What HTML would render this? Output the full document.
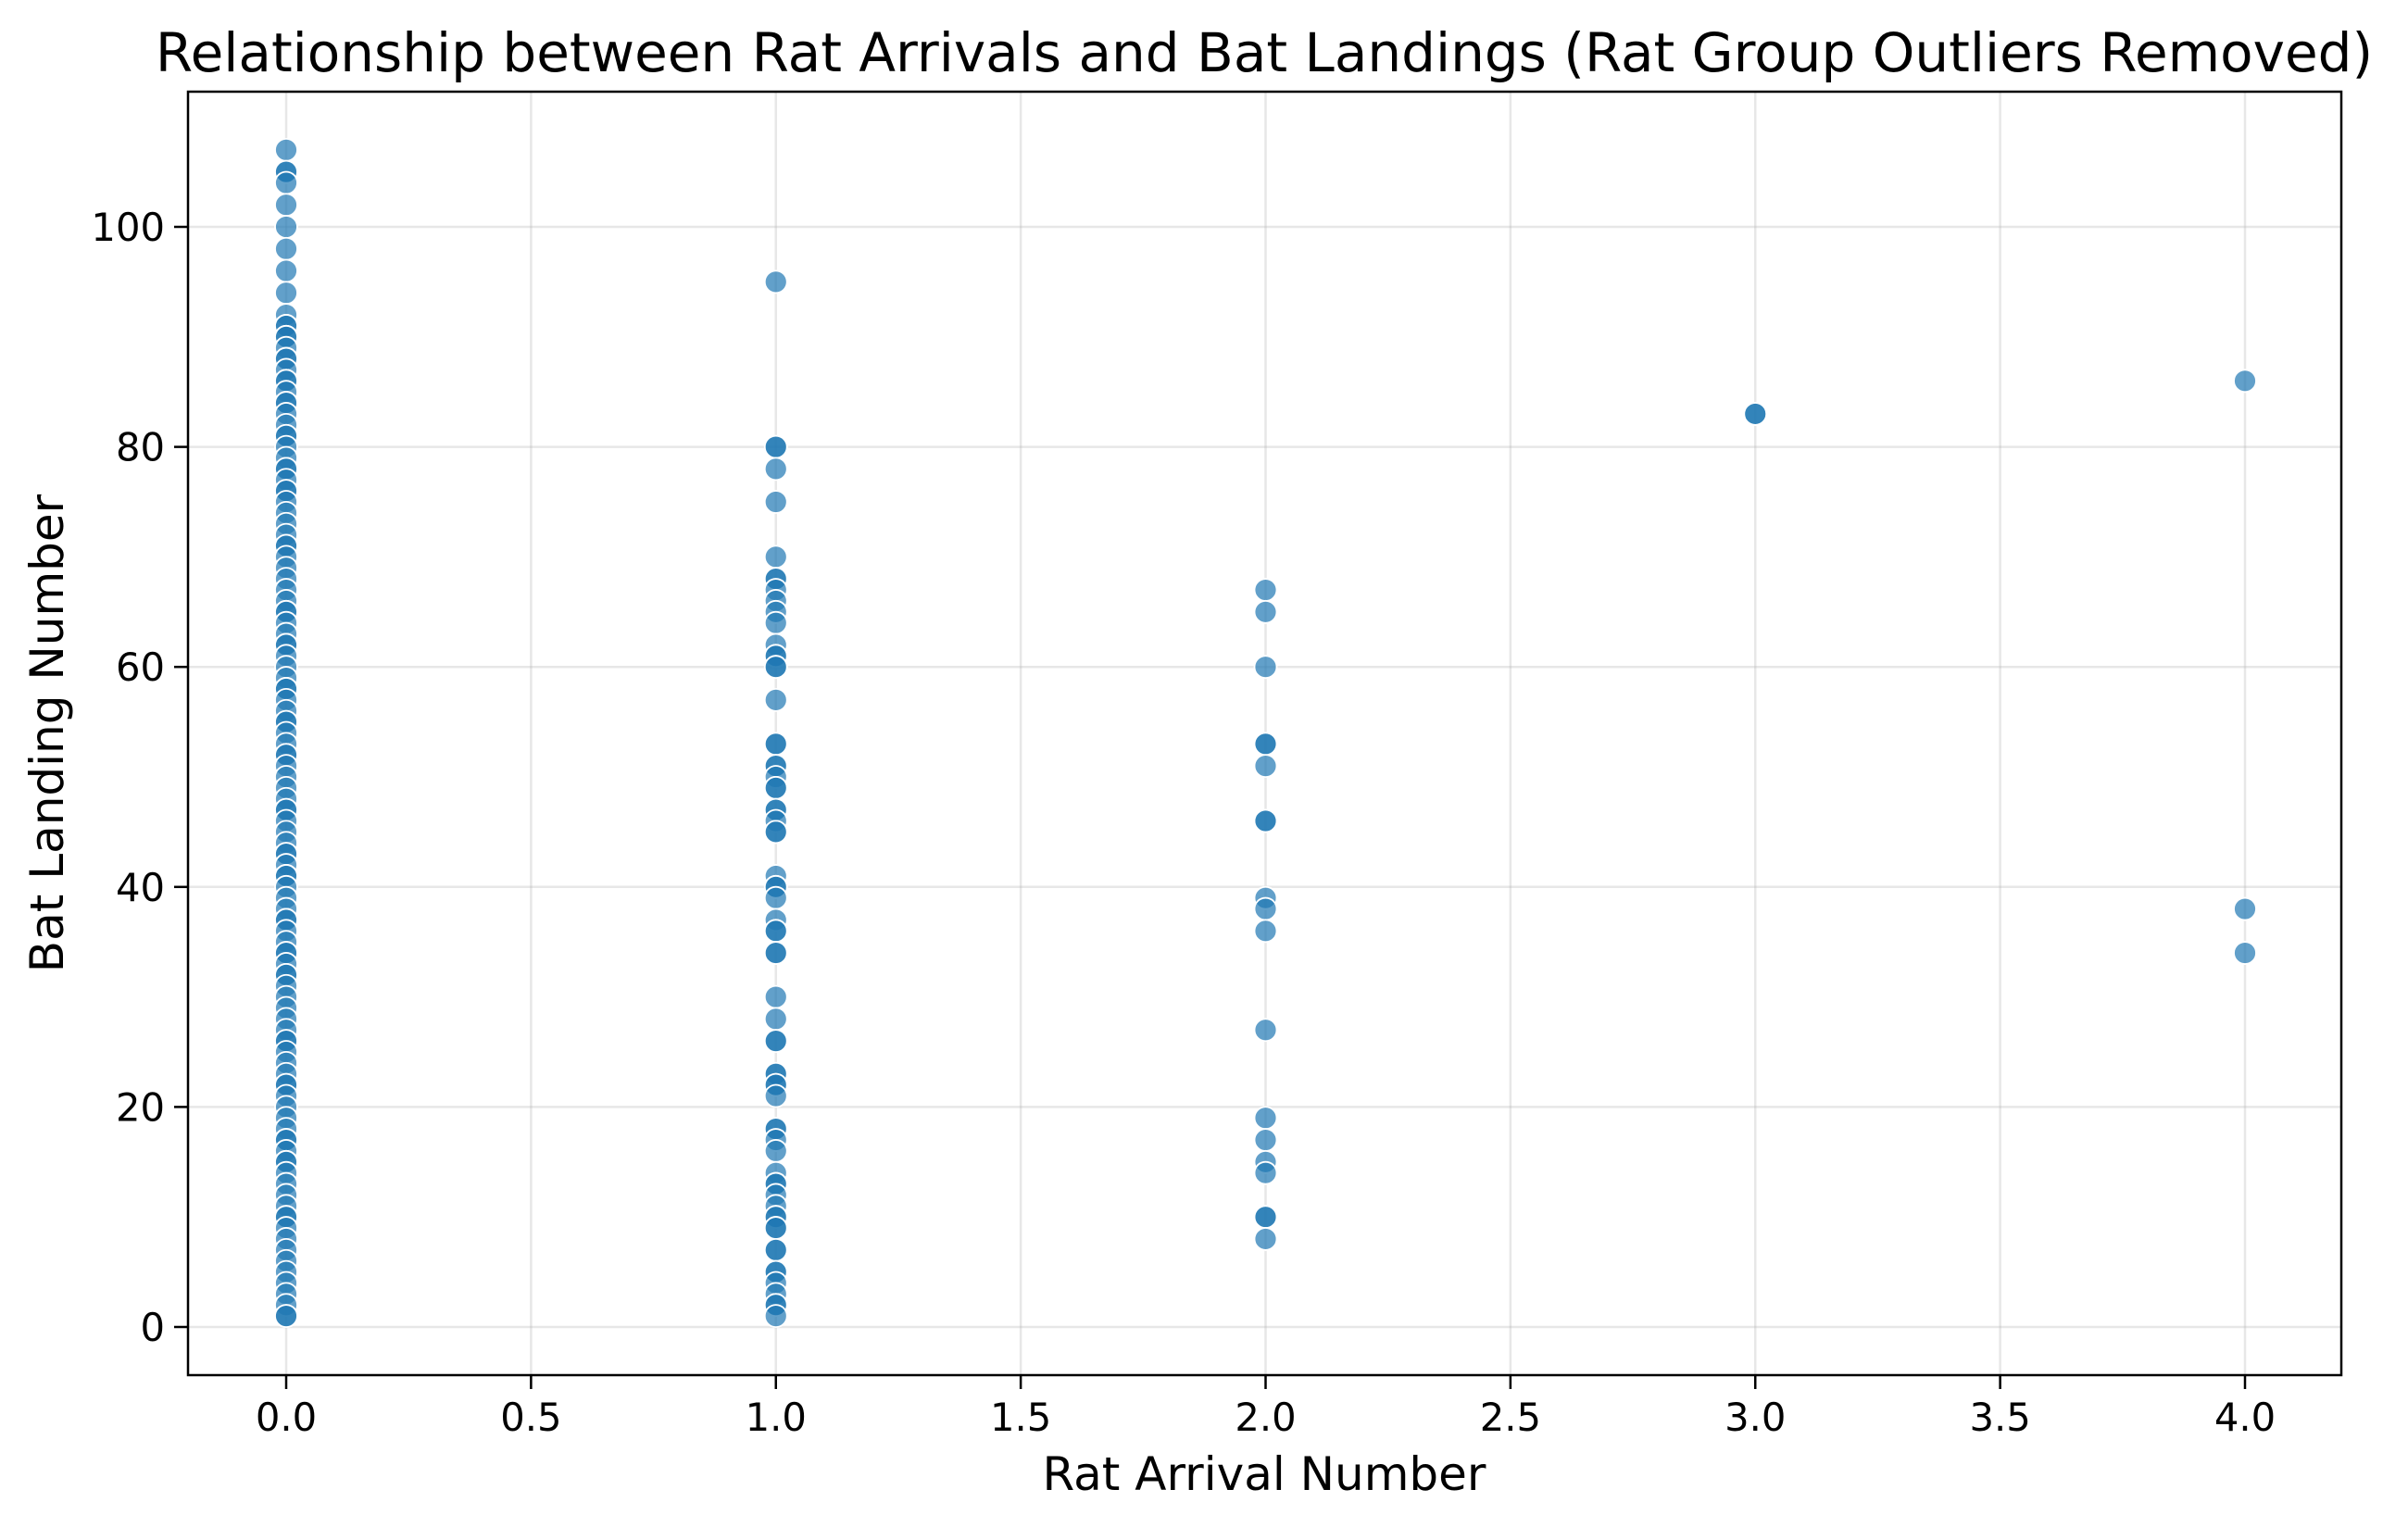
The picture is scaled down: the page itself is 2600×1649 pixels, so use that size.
<!DOCTYPE html>
<html><head><meta charset="utf-8"><style>
html,body{margin:0;padding:0;background:#fff;}
svg{display:block;font-family:"DejaVu Sans","Liberation Sans",sans-serif;}
</style></head><body>
<svg id="chart" width="2600" height="1649" viewBox="0 0 2600 1649" xmlns="http://www.w3.org/2000/svg">
<rect x="0" y="0" width="2600" height="1649" fill="#fff"/>
<g id="grid"></g>
<g id="points"></g>
<rect x="203" y="99" width="2325" height="1386" fill="none" stroke="#000" stroke-width="2.5"/>
<g id="xticks"></g>
<g id="yticks"></g>
<text x="1365" y="77" font-size="58" text-anchor="middle">Relationship between Rat Arrivals and Bat Landings (Rat Group Outliers Removed)</text>
<text x="1365" y="1609" font-size="50" text-anchor="middle">Rat Arrival Number</text>
<text x="0" y="0" font-size="50" text-anchor="middle" transform="translate(68,792) rotate(-90)">Bat Landing Number</text>
</svg>
<script>
const xTickValues = [0, 0.5, 1, 1.5, 2, 2.5, 3, 3.5, 4];
const xTickLabels = ["0.0","0.5","1.0","1.5","2.0","2.5","3.0","3.5","4.0"];
const yTickValues = [0, 20, 40, 60, 80, 100];
const yTickLabels = ["0","20","40","60","80","100"];
const group0Landings = [107,105,105,104,102,100,98,96,94,92,91,91,90,90,89,88,88,87,86,86,85,84,84,83,82,81,81,80,79,78,78,77,76,76,75,74,73,72,71,71,70,69,68,67,66,65,65,64,63,62,62,61,60,59,58,58,57,56,55,55,54,53,52,52,51,50,49,48,47,47,46,45,44,43,43,42,41,41,40,39,38,37,37,36,35,34,34,33,32,32,31,30,29,28,27,26,26,25,24,23,22,22,21,20,19,18,17,17,16,15,15,14,13,12,11,10,10,9,8,7,6,5,4,3,2,1,1];
const group1Landings = [95,80,80,78,75,70,68,68,67,66,65,64,62,61,61,60,60,57,53,53,51,51,50,49,49,47,47,46,45,45,41,40,40,39,37,36,36,34,34,30,28,26,26,23,23,22,22,21,18,18,17,16,14,13,13,12,11,10,10,9,9,7,7,5,5,4,3,2,2,1];
const group2Landings = [67,65,60,53,53,51,46,46,39,38,36,27,19,17,15,14,10,10,8];
const group3Landings = [83,83];
const group4Landings = [86,38,34];
const groupArrivals = [0,1,2,3,4];

const NS = "http://www.w3.org/2000/svg";
const L=203,R=2528,T=99,B=1485;
function xs(v){return 309 + v*(2424-309)/4;}
function ys(v){return 1433 - v*(1433-245)/100;}
function mk(tag,attrs,parent){const e=document.createElementNS(NS,tag);for(const k in attrs)e.setAttribute(k,attrs[k]);parent.appendChild(e);return e;}

const grid=document.getElementById('grid');
const xt=document.getElementById('xticks');
const yt=document.getElementById('yticks');
xTickValues.forEach((v,i)=>{
  const x=xs(v);
  const g=mk('line',{x1:x,x2:x,y1:T,y2:B,stroke:'#b0b0b0','stroke-opacity':0.3,'stroke-width':2.5},grid);
  
  
  const t=mk('line',{x1:x,x2:x,y1:B,y2:B+15,stroke:'#000','stroke-width':2.5},xt);
  
  
  const lb=mk('text',{x:x,y:1545,'font-size':41.7,'text-anchor':'middle'},xt);
  lb.textContent=xTickLabels[i];
  
  
});
yTickValues.forEach((v,i)=>{
  const y=ys(v);
  const g=mk('line',{x1:L,x2:R,y1:y,y2:y,stroke:'#b0b0b0','stroke-opacity':0.3,'stroke-width':2.5},grid);
  
  
  const t=mk('line',{x1:L-15,x2:L,y1:y,y2:y,stroke:'#000','stroke-width':2.5},yt);
  
  
  const lb=mk('text',{x:L-25,y:y+15,'font-size':41.7,'text-anchor':'end'},yt);
  lb.textContent=yTickLabels[i];
  
  
});
const pts=document.getElementById('points');
const groups=[group0Landings,group1Landings,group2Landings,group3Landings,group4Landings];
groups.forEach((arr,gi)=>{
  arr.forEach(v=>{
    const c=mk('circle',{cx:xs(groupArrivals[gi]),cy:ys(v),r:12,fill:'#1f77b4','fill-opacity':0.7,stroke:'#fff','stroke-width':1.8},pts);
    
    
  });
});
</script>
</body></html>
